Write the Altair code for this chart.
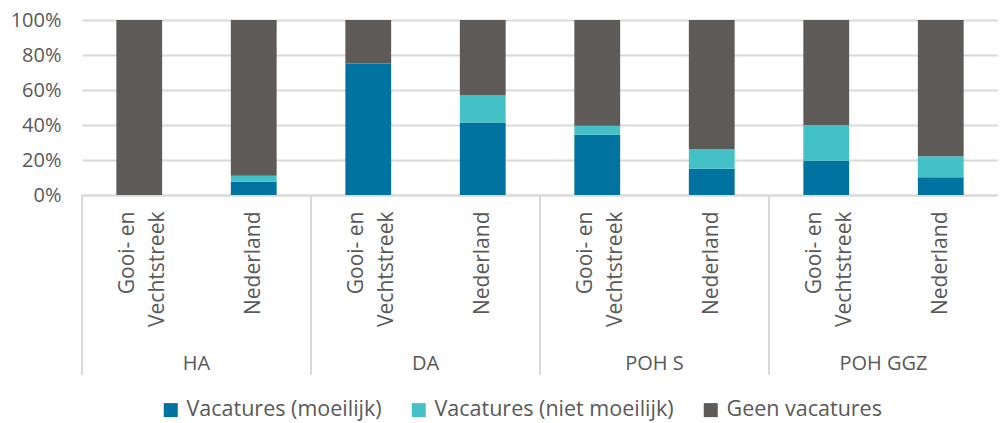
import altair as alt
import pandas as pd

groups = ["HA", "DA", "POH S", "POH GGZ"]
regions = ["Gooi- en Vechtstreek", "Nederland"]
categories = ["Vacatures (moeilijk)", "Vacatures (niet moeilijk)", "Geen vacatures"]
colors = ["#0073A0", "#43C1C6", "#5E5A57"]

# values per group, in order [Gooi- en Vechtstreek, Nederland]
moeilijk = {"HA": [0, 7.6], "DA": [75.2, 41.5], "POH S": [34.5, 15.0], "POH GGZ": [19.6, 10.1]}
niet_moeilijk = {"HA": [0, 3.4], "DA": [0, 15.6], "POH S": [5.1, 11.1], "POH GGZ": [20.4, 12.0]}
geen = {"HA": [100, 89.0], "DA": [24.8, 42.9], "POH S": [60.4, 73.9], "POH GGZ": [60.0, 77.9]}

rows = []
for g in groups:
    for i, r in enumerate(regions):
        for k, (cat, src) in enumerate(zip(categories, [moeilijk, niet_moeilijk, geen])):
            rows.append({"key": g + "|" + r, "group": g, "region": r,
                         "category": cat, "order": k, "value": src[g][i]})
df = pd.DataFrame(rows)
keys = [g + "|" + r for g in groups for r in regions]
grp_df = pd.DataFrame({"key": [g + "|" + regions[0] for g in groups], "group": groups})

FONT = "Open Sans"
GREY_TXT = "#595959"
H = 175
W = 916
STEP = W / 8.0
P_IN, P_OUT = 0.6, 0.3

x_scale = alt.Scale(domain=keys, paddingInner=P_IN, paddingOuter=P_OUT)

bars = alt.Chart(df).mark_bar().encode(
    x=alt.X(
        "key:N",
        sort=keys,
        scale=x_scale,
        axis=alt.Axis(
            title=None,
            labelAngle=270,
            labelAlign="right",
            labelBaseline="middle",
            labelPadding=16,
            labelFontSize=21,
            labelLineHeight=30,
            labelFont=FONT,
            labelColor=GREY_TXT,
            labelOffset={"condition": {"test": "indexof(datum.value, 'Gooi') >= 0", "value": -11}, "value": 0},
            ticks=False,
            domainColor="#D9D9D9",
            domainWidth=2,
            labelExpr="split(datum.label, '|')[1] == 'Gooi- en Vechtstreek' ? ['Gooi- en', 'Vechtstreek'] : split(datum.label, '|')[1]",
        ),
    ),
    y=alt.Y(
        "value:Q",
        stack="normalize",
        scale=alt.Scale(domain=[0, 1]),
        axis=alt.Axis(
            title=None,
            format="%",
            values=[0, 0.2, 0.4, 0.6, 0.8, 1.0],
            labelFontSize=20,
            labelFont=FONT,
            labelColor=GREY_TXT,
            labelPadding=21,
            ticks=False,
            domain=False,
            gridColor="#D9D9D9",
            gridWidth=2,
        ),
    ),
    color=alt.Color(
        "category:N",
        sort=categories,
        scale=alt.Scale(domain=categories, range=colors),
        legend=alt.Legend(
            title=None,
            orient="none",
            legendX=74,
            legendY=375,
            direction="horizontal",
            symbolType="square",
            symbolSize=196,
            symbolStrokeWidth=0,
            labelFontSize=21.5,
            labelFont=FONT,
            labelColor=GREY_TXT,
            labelLimit=0,
            columnPadding=26,
            labelOffset=5,
            padding=4,
        ),
    ),
    order=alt.Order("order:Q", sort="ascending"),
)

# separators at the left edge of each group (x encodes band start, so shift by the outer padding)
seps = alt.Chart(grp_df).mark_rule(color="#D9D9D9", strokeWidth=2).encode(
    x=alt.X("key:N", sort=keys, scale=x_scale),
    xOffset=alt.value(-P_OUT * STEP),
    y=alt.value(H),
    y2=alt.value(H + 180),
)

glabels = alt.Chart(grp_df).mark_text(
    font=FONT, fontSize=20, color=GREY_TXT, baseline="middle", align="center"
).encode(
    x=alt.X("key:N", sort=keys, scale=x_scale),
    xOffset=alt.value((1 - P_IN + P_OUT) * STEP),
    y=alt.value(H + 169),
    text="group:N",
)

chart = (
    alt.layer(bars, seps, glabels)
    .properties(width=W, height=H, padding={"left": 2, "top": 2, "right": 0, "bottom": 0})
    .configure_view(strokeWidth=0)
)

chart.save("out.html", embed_options={"renderer": "svg", "actions": False})
